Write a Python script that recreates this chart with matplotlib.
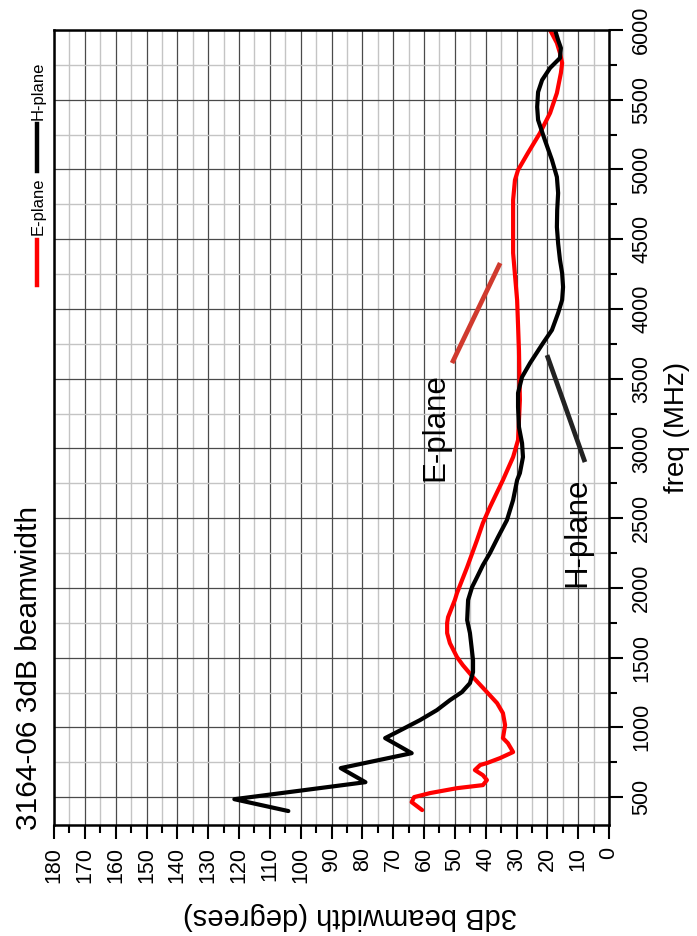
import matplotlib
matplotlib.use("Agg")
import matplotlib.pyplot as plt
from matplotlib.lines import Line2D
from matplotlib.ticker import MultipleLocator

plt.rcParams['font.family'] = ['Liberation Sans', 'DejaVu Sans']

# H-plane 3dB beamwidth (degrees) vs freq (MHz)
h_freq = [400, 485, 607, 708, 815, 923, 966, 1052, 1124, 1195, 1253, 1317,
          1396, 1482, 1580, 1676, 1769, 1913, 2006, 2077, 2163, 2250, 2364,
          2486, 2630, 2773, 2823, 2938, 3038, 3153, 3297, 3397, 3512, 3612,
          3755, 3849, 3970, 4064, 4157, 4257, 4351, 4470, 4587, 4710, 4831,
          4946, 5068, 5211, 5355, 5448, 5555, 5641, 5728, 5799, 5871, 5928,
          6000]
h_bw = [104, 121.5, 79, 87, 64, 72.6, 68.8, 61.3, 55.8, 51.6, 47.7, 45.1,
        44.1, 44.1, 44.6, 45.1, 46, 45.7, 44.4, 42.8, 40.9, 38.6, 36,
        33.1, 31.1, 29.8, 28.9, 27.9, 28.2, 29.2, 29.5, 29.5, 28.2, 25.6,
        21.4, 18.5, 16.5, 15.2, 14.9, 15.2, 15.9, 16.5, 16.9, 16.8, 16.5,
        16.9, 18.5, 20.8, 23, 23.3, 23, 21.7, 19.1, 15.9, 15.6, 16.5,
        17.5]

# E-plane
e_freq = [407, 464, 500, 529, 564, 586, 622, 657, 694, 730, 744, 780, 823,
          887, 923, 1016, 1102, 1174, 1253, 1360, 1446, 1504, 1604, 1676,
          1748, 1790, 1913, 1963, 2149, 2343, 2465, 2580, 2773, 2938, 3060,
          3347, 3705, 4064, 4401, 4781, 4924, 4996, 5118, 5261, 5405, 5548,
          5692, 5763, 5835, 5907, 6000]
e_bw = [60.6, 64, 63.2, 58, 49.3, 40.9, 39.6, 40.9, 43.5, 41.8, 39.6, 35.3,
        31.1, 32.8, 34.4, 33.7, 34.4, 36.3, 39.6, 44.1, 47.4, 49.3, 51.6,
        52.5, 52.5, 52.2, 50, 49.3, 46, 42.8, 40.9, 38.6, 34.4, 31.1, 29.5,
        28.9, 29.2, 29.8, 31.1, 31.1, 30.5, 29.5, 26.3, 22.4, 19.1, 16.9,
        15.6, 15.2, 15.9, 16.9, 19.1]

freq_ticks = list(range(500, 6001, 500))
bw_ticks = list(range(0, 181, 10))

# callout pointers (bw, freq)
e_pointer = ([50.9, 35.3], [3612, 4329])
h_pointer = ([20.1, 7.8], [3669, 2902])

fig = plt.figure(figsize=(6.97, 9.36), dpi=100)
ax = fig.add_axes([54 / 697, 1 - 825 / 936, 555 / 697, 795 / 936])

# chart is drawn turned on its side: beamwidth across, freq upward
ax.plot(e_bw, e_freq, color='#ff0000', lw=3.0, solid_joinstyle='round',
        solid_capstyle='round')
ax.plot(h_bw, h_freq, color='black', lw=3.0, solid_joinstyle='round',
        solid_capstyle='round')

ax.set_xlim(180, 0)
ax.set_ylim(300, 6000)
ax.set_xticks(bw_ticks)
ax.set_yticks(freq_ticks)
ax.xaxis.set_minor_locator(MultipleLocator(5))
ax.yaxis.set_minor_locator(MultipleLocator(250))
ax.yaxis.tick_right()

ax.grid(which='major', color='#4a4a4a', lw=0.9)
ax.grid(which='minor', color='#c4c4c4', lw=1.0)
ax.set_axisbelow(True)

ax.tick_params(which='major', length=10, width=1.5, labelsize=15.5, pad=6)
ax.tick_params(which='minor', length=6, width=1.5)
ax.tick_params(axis='x', labelrotation=90)
ax.tick_params(axis='y', labelrotation=90)
for lab in ax.get_yticklabels():
    lab.set_va('center')
for sp in ax.spines.values():
    sp.set_linewidth(1.8)

# callouts
ax.plot(*e_pointer, color='#d03a2e', lw=3.4, solid_capstyle='butt')
ax.plot(*h_pointer, color='#222222', lw=3.4, solid_capstyle='butt')
ax.text(56.4, 3153, 'E-plane', rotation=90, fontsize=22.5,
        ha='center', va='center')
ax.text(10.4, 2400, 'H-plane', rotation=90, fontsize=22.5,
        ha='center', va='center')

# titles / labels
fig.text(29 / 697, 1 - 830 / 936, '3164-06 3dB beamwidth', rotation=90,
         fontsize=21.5, ha='center', va='bottom')
fig.text(350 / 697, 1 - 916 / 936, '3dB beamwidth (degrees)', rotation=180,
         fontsize=21, ha='center', va='center')
fig.text(677 / 697, 1 - 427 / 936, 'freq (MHz)', rotation=90,
         fontsize=20, ha='center', va='center')

# legend, turned like the chart
lx = 37 / 697
fig.add_artist(Line2D([lx, lx], [1 - 285 / 936, 1 - 240 / 936],
                      color='#ff0000', lw=3.2, transform=fig.transFigure))
fig.text(lx + 0.001, 1 - 206 / 936, 'E-plane', rotation=90, fontsize=12,
         ha='center', va='center')
fig.add_artist(Line2D([lx, lx], [1 - 171 / 936, 1 - 124 / 936],
                      color='black', lw=3.2, transform=fig.transFigure))
fig.text(lx + 0.001, 1 - 91 / 936, 'H-plane', rotation=90, fontsize=12,
         ha='center', va='center')

fig.savefig('out.png', dpi=100, facecolor='white')
